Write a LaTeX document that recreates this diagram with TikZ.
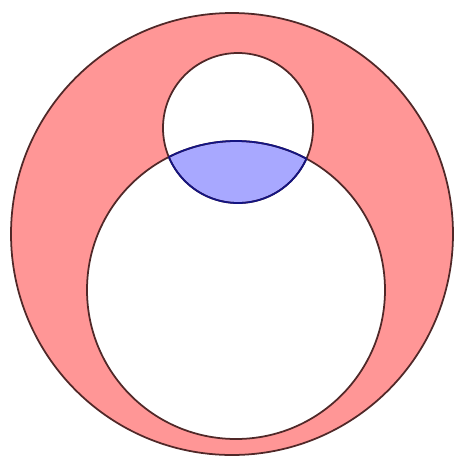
\documentclass[tikz,border=0pt]{standalone}
\usepackage{tikz}
\definecolor{mypink}{RGB}{255,150,150}
\definecolor{mylens}{RGB}{168,168,255}
\definecolor{myedge}{RGB}{80,40,40}
\definecolor{mynavy}{RGB}{20,20,130}

\begin{document}
\begin{tikzpicture}[x=0.02cm,y=-0.02cm,line width=1pt]
\useasboundingbox (0,0) rectangle (455,458);
\coordinate (big) at (232,234);
\coordinate (top) at (238,128);
\coordinate (low) at (236,290);

\fill[mypink] (big) circle[radius=221];
\fill[white] (top) circle[radius=75];
\fill[white] (low) circle[radius=149];

\begin{scope}
  \clip (top) circle[radius=75];
  \fill[mylens] (low) circle[radius=149];
\end{scope}

\draw[myedge] (big) circle[radius=221];
\draw[myedge] (top) circle[radius=75];
\draw[myedge] (low) circle[radius=149];

% lens edges
\begin{scope}
  \clip (top) circle[radius=75];
  \draw[mynavy] (low) circle[radius=149];
\end{scope}
\begin{scope}
  \clip (low) circle[radius=149];
  \draw[mynavy] (top) circle[radius=75];
\end{scope}
\end{tikzpicture}
\end{document}
